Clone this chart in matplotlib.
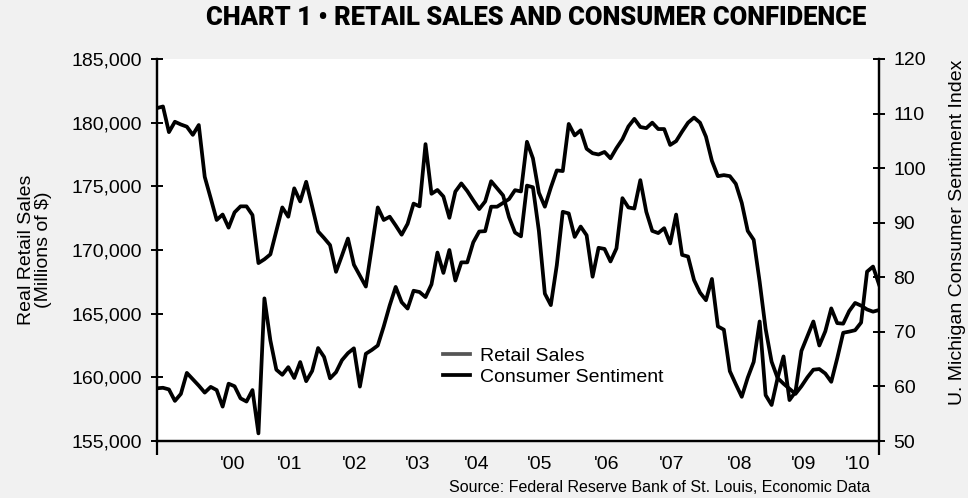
import numpy as np
import matplotlib
matplotlib.use("Agg")
import matplotlib.pyplot as plt
from matplotlib.ticker import FuncFormatter

# monthly readings, Apr 2000 .. May 2010
retail = [
    159140, 159180, 159050, 158150, 158700, 160350, 159850, 159350, 158800, 159250,
    159000, 157700, 159500, 159300, 158350, 158100, 159000, 155600, 166200, 162900,
    160600, 160200, 160800, 159950, 161200, 159700, 160500, 162300, 161600, 159920,
    160400, 161350, 161900, 162280, 159270, 161850, 162150, 162500, 164000, 165650,
    167100, 165900, 165400, 166800, 166700, 166300, 167300, 169800, 168200, 170000,
    167600, 169030, 169030, 170600, 171450, 171480, 173400, 173400, 173700, 174000,
    174700, 174600, 178500, 177200, 174500, 173400, 174900, 176250, 176200, 179900,
    179000, 179400, 177950, 177600, 177500, 177700, 177200, 178000, 178700, 179700,
    180300, 179660, 179570, 180000, 179500, 179500, 178250, 178550, 179300, 180000,
    180400, 180000, 178900, 177000, 175800, 175880, 175800, 175200, 173700, 171500,
    170800, 167500, 163800, 161230, 159950, 159500, 159100, 158700, 159300, 160000,
    160600, 160650, 160300, 159650, 161500, 163500, 163590, 163700, 164300, 168300,
    168700, 167300,
]
sentiment = [
    111.0, 111.3, 106.6, 108.5, 108.0, 107.6, 106.1, 107.9, 98.4, 94.5,
    90.5, 91.5, 89.1, 91.9, 93.0, 93.0, 91.4, 82.6, 83.3, 84.2,
    88.5, 92.8, 91.1, 96.3, 93.9, 97.5, 93.0, 88.4, 87.2, 85.9,
    81.0, 84.0, 87.1, 82.3, 80.3, 78.3, 85.5, 92.8, 90.5, 91.1,
    89.5, 87.8, 89.8, 93.5, 93.0, 104.4, 95.3, 96.0, 94.8, 90.9,
    95.7, 97.2, 95.8, 94.1, 92.5, 93.9, 97.6, 96.3, 95.0, 91.0,
    88.2, 87.5, 96.8, 96.5, 88.5, 77.0, 74.9, 82.2, 92.0, 91.7,
    87.4, 89.3, 87.7, 80.1, 85.4, 85.2, 82.9, 85.3, 94.5, 92.8,
    92.6, 97.8, 92.0, 88.5, 88.1, 89.0, 86.2, 91.5, 84.1, 83.8,
    79.5, 77.2, 75.8, 79.7, 71.0, 70.4, 62.8, 60.4, 58.1, 61.6,
    64.5, 71.9, 58.4, 56.6, 61.5, 65.5, 57.5, 59.0, 66.5, 69.2,
    71.9, 67.5, 70.1, 74.3, 71.6, 71.5, 73.8, 75.3, 74.8, 74.1,
    73.7, 74.0,
]
year_labels = ["'00", "'01", "'02", "'03", "'04", "'05", "'06", "'07", "'08", "'09", "'10"]
year_pos = [12.6, 22.3, 33.2, 43.7, 53.5, 64.2, 75.4, 86.3, 97.7, 108.3, 117.5]

months = np.arange(len(retail))

plt.rcParams['font.family'] = ['Liberation Sans', 'DejaVu Sans']
fs = 14

fig = plt.figure(figsize=(9.68, 4.98), dpi=100, facecolor='#f1f1f1')
ax = fig.add_axes([157/968, 1-441/498, 722/968, 382/498])
ax.set_facecolor('white')
ax2 = ax.twinx()

l1, = ax.plot(months, retail, color='black', lw=2.7, label='Retail Sales')
l2, = ax2.plot(months, sentiment, color='black', lw=2.7, label='Consumer Sentiment')

ax.set_xlim(0, len(retail) - 1)
ax.set_ylim(155000, 185000)
ax2.set_ylim(50, 120)
ax.set_yticks(np.arange(155000, 185001, 5000))
ax2.set_yticks(np.arange(50, 121, 10))
ax.yaxis.set_major_formatter(FuncFormatter(lambda v, p: f'{v:,.0f}'))

for a in (ax, ax2):
    a.spines['top'].set_visible(False)
    for s in a.spines.values():
        s.set_linewidth(1.6)
ax.tick_params(axis='y', direction='inout', length=9, width=1.4, labelsize=fs, pad=6)
ax2.tick_params(axis='y', direction='inout', length=9, width=1.4, labelsize=fs, pad=6)

ax.set_xticks(year_pos)
ax.set_xticklabels(year_labels)
ax.set_xticks([0, len(retail) - 1], minor=True)
ax.tick_params(axis='x', which='major', length=0, labelsize=fs, pad=11)
ax.tick_params(axis='x', which='minor', direction='out', length=10, width=1.6)

leg = ax2.legend([l1, l2], ['Retail Sales', 'Consumer Sentiment'], loc='upper left',
                 bbox_to_anchor=(0.383, 0.27), frameon=False, fontsize=fs,
                 handlelength=1.4, handletextpad=0.5, labelspacing=0.15, borderpad=0)
leg.legend_handles[0].set_color('#555555')

fig.text(0.5535, 1-18/498, 'CHART 1 \u2022 RETAIL SALES AND CONSUMER CONFIDENCE',
         ha='center', va='center', fontsize=18.4, fontweight='black',
         family=['Roboto', 'DejaVu Sans'])
fig.text(35/968, 1-250/498, 'Real Retail Sales\n(Millions of $)', rotation=90,
         ha='center', va='center', fontsize=fs, linespacing=1.05)
fig.text(957/968, 1-232/498, 'U. Michigan Consumer Sentiment Index', rotation=90,
         ha='center', va='center', fontsize=fs)
fig.text(870/968, 1-487/498, 'Source: Federal Reserve Bank of St. Louis, Economic Data',
         ha='right', va='center', fontsize=11.5)

fig.savefig('out.png', dpi=100, facecolor=fig.get_facecolor())
